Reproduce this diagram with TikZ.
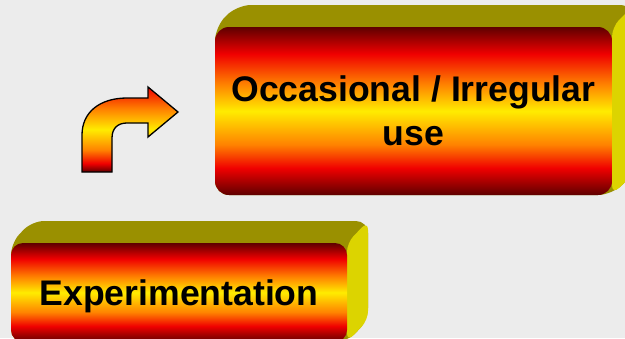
\documentclass[tikz,border=0pt]{standalone}
\usepackage{fontspec}
\setmainfont{Liberation Sans}
\definecolor{bg}{RGB}{236,236,236}
\definecolor{fdark}{RGB}{95,0,0}
\definecolor{fred}{RGB}{240,0,0}
\definecolor{forange}{RGB}{255,130,0}
\definecolor{fyellow}{RGB}{255,236,0}
\definecolor{olivetop}{RGB}{154,144,0}
\definecolor{yside}{RGB}{220,212,0}
\pgfdeclareverticalshading{fire}{100bp}{color(0bp)=(fdark); color(25bp)=(fdark); color(33bp)=(fred); color(40bp)=(forange); color(50bp)=(fyellow); color(58bp)=(forange); color(67bp)=(fred); color(75bp)=(fdark); color(100bp)=(fdark)}
\pgfdeclareverticalshading{arrowfire}{100bp}{color(0bp)=(fdark); color(25bp)=(fdark); color(30bp)=(fred); color(38bp)=(forange); color(50bp)=(fyellow); color(62bp)=(forange); color(75bp)=(fred); color(100bp)=(fred)}
\tikzset{
  frontbox/.style={shading=fire, align=center, inner sep=0pt,
    font=\bfseries\fontsize{35.6}{44}\selectfont},
  topface/.style={fill=olivetop},
  sideface/.style={fill=yside},
  bentarrow/.style={shading=arrowfire, draw=black, line width=1.3pt, line join=miter}
}
\begin{document}
\begin{tikzpicture}[x=1pt,y=-1pt]
\useasboundingbox (0,0) rectangle (625,338);
\clip (0,0) rectangle (625,338);
\fill[bg] (0,0) rectangle (625,338);
% top box extrusion
\fill[topface, rounded corners=14pt] (215,195) -- (215,27) -- (237,5) -- (634,5) -- (634,173) -- (612,195) -- cycle;
\fill[sideface, rounded corners=10pt] (612,27) -- (634,5) -- (634,173) -- (612,195) -- cycle;
% bottom box extrusion
\fill[topface, rounded corners=12pt] (11,342) -- (11,243) -- (32,221) -- (368,221) -- (368,320) -- (347,342) -- cycle;
\fill[sideface, rounded corners=9pt] (347,243) -- (368,221) -- (368,320) -- (347,342) -- cycle;
% front faces
\node[frontbox, minimum width=397pt, minimum height=168pt, rounded corners=14pt] (occ) at (413.5,111) {Occasional / Irregular\\use};
\node[frontbox, minimum width=336pt, minimum height=99pt, rounded corners=12pt, text depth=0pt] (exp) at (179,292.5) {Experimentation};
% bent arrow
\draw[bentarrow] (82,172) -- (82,135) .. controls (82,112) and (100,98) .. (127,98) -- (148,98) -- (148,87) -- (178,112) -- (148,137) -- (148,123) -- (127,123) .. controls (118,123) and (112,128) .. (112,138) -- (112,172) -- cycle;
\end{tikzpicture}
\end{document}
